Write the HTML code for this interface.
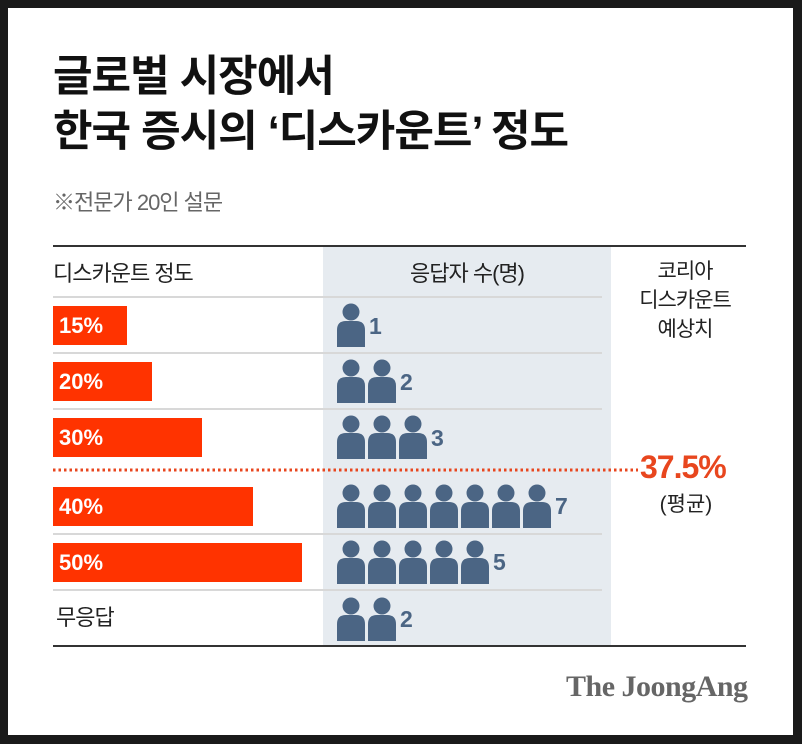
<!DOCTYPE html>
<html><head><meta charset="utf-8"><style>
body{margin:0;background:#1a1a1a;width:802px;height:744px;position:relative;overflow:hidden;font-family:"Liberation Sans","Noto Sans CJK KR",sans-serif}
.card{position:absolute;left:8px;top:8px;width:785px;height:727px;background:#fff}
.a{position:absolute;white-space:nowrap}
.t{font-weight:bold;font-size:43px;color:#111;letter-spacing:-1px;left:53px}
.bar{position:absolute;left:53px;height:39px;background:#ff3300;color:#fff;font-size:22px;font-weight:bold;line-height:40px;padding-left:6px;box-sizing:border-box}
.sep{position:absolute;left:53px;width:549px;height:2px;background:#d8d8d8}
.num{position:absolute;font-size:23px;font-weight:bold;color:#4b6584}
</style></head><body>
<div class="card"></div>
<div class="a t" style="top:52px;line-height:50px">글로벌 시장에서</div>
<div class="a t" style="top:107px;line-height:50px">한국 증시의 ‘디스카운트’ 정도</div>
<div class="a" style="left:53px;top:185px;font-size:22px;color:#666;letter-spacing:-1px">※전문가 20인 설문</div>
<div class="a" style="left:323px;top:246px;width:288px;height:400px;background:#e6ebf0"></div>
<div class="a" style="left:53px;top:245px;width:693px;height:2px;background:#333"></div>
<div class="a" style="left:53px;top:645px;width:693px;height:2px;background:#333"></div>
<div class="a" style="left:53px;top:256px;font-size:22px;color:#222;letter-spacing:-1px">디스카운트 정도</div>
<div class="a" style="left:323px;width:288px;text-align:center;top:256px;font-size:22px;color:#222;letter-spacing:-1px">응답자 수(명)</div>
<div class="a" style="left:618px;width:134px;text-align:center;top:257px;font-size:21px;line-height:29px;color:#222;letter-spacing:-1px">코리아<br>디스카운트<br>예상치</div>
<div class="sep" style="top:296px"></div><div class="sep" style="top:352px"></div><div class="sep" style="top:408px"></div>
<div class="sep" style="top:533px"></div><div class="sep" style="top:589px"></div>
<div class="bar" style="top:306px;width:74px">15%</div>
<div class="bar" style="top:362px;width:99px">20%</div>
<div class="bar" style="top:418px;width:149px">30%</div>
<div class="bar" style="top:487px;width:200px">40%</div>
<div class="bar" style="top:543px;width:249px">50%</div>
<div class="a" style="left:56px;top:598px;font-size:22px;color:#222;letter-spacing:-1px;line-height:40px">무응답</div>
<svg class="a" style="left:0;top:0" width="802" height="744">
<defs><g id="p" fill="#4b6584"><circle cx="14" cy="9" r="8.5"/><path d="M0 44 V27 Q0 18 9 18 H19 Q28 18 28 27 V44 Z"/></g></defs>
<line x1="53" y1="470" x2="638" y2="470" stroke="#e8461e" stroke-width="3" stroke-dasharray="2.5 3"/>
<use href="#p" x="337" y="303"/>
<use href="#p" x="337" y="359"/><use href="#p" x="368" y="359"/>
<use href="#p" x="337" y="415"/><use href="#p" x="368" y="415"/><use href="#p" x="399" y="415"/>
<use href="#p" x="337" y="484"/><use href="#p" x="368" y="484"/><use href="#p" x="399" y="484"/><use href="#p" x="430" y="484"/><use href="#p" x="461" y="484"/><use href="#p" x="492" y="484"/><use href="#p" x="523" y="484"/>
<use href="#p" x="337" y="540"/><use href="#p" x="368" y="540"/><use href="#p" x="399" y="540"/><use href="#p" x="430" y="540"/><use href="#p" x="461" y="540"/>
<use href="#p" x="337" y="597"/><use href="#p" x="368" y="597"/>
</svg>
<div class="num" style="left:369px;top:313px">1</div>
<div class="num" style="left:400px;top:369px">2</div>
<div class="num" style="left:431px;top:425px">3</div>
<div class="num" style="left:555px;top:493px">7</div>
<div class="num" style="left:493px;top:549px">5</div>
<div class="num" style="left:400px;top:606px">2</div>
<div class="a" style="left:640px;top:449px;font-size:32px;font-weight:bold;color:#e8461e;letter-spacing:-1px">37.5%</div>
<div class="a" style="left:620px;width:132px;text-align:center;top:488px;font-size:21px;color:#222">(평균)</div>
<div class="a" style="left:566px;top:670px;font-family:'Liberation Serif','DejaVu Serif',serif;font-weight:bold;font-size:30px;color:#666;letter-spacing:-0.5px">The JoongAng</div>
</body></html>
